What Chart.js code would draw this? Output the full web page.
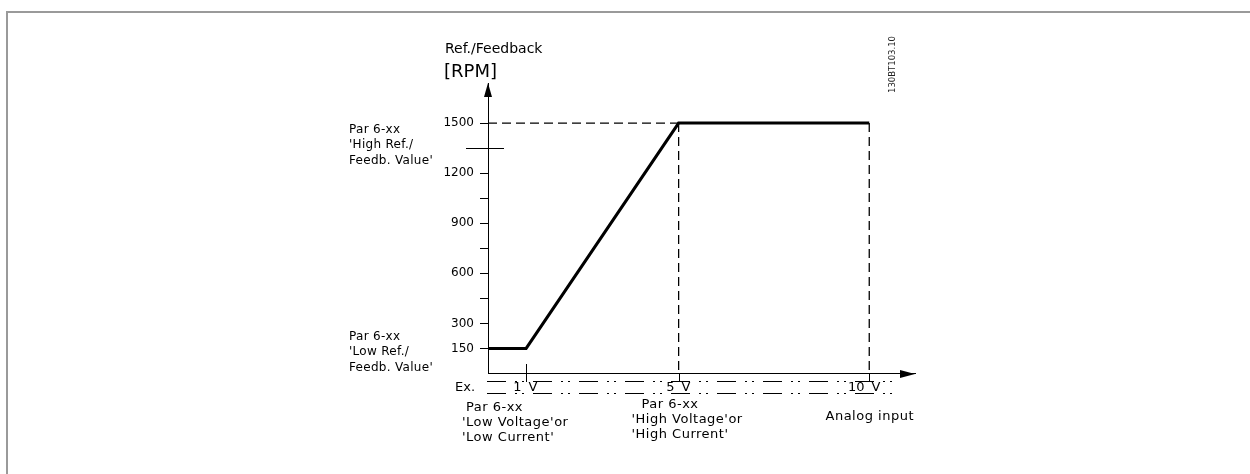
<!DOCTYPE html>
<html><head><meta charset="utf-8">
<script src="https://cdn.jsdelivr.net/npm/chart.js@4/dist/chart.umd.min.js"></script>
<style>
html,body{margin:0;padding:0;background:#fff;}
#wrap{position:relative;width:1250px;height:474px;overflow:hidden;}
#frame{position:absolute;left:6px;top:11px;right:-4px;bottom:-4px;border-left:2px solid #9a9a9a;border-top:2px solid #9a9a9a;pointer-events:none;}
</style></head><body>
<div id="wrap"><canvas id="c"></canvas><div id="frame"></div></div>
<script>
// ---- data ----
const xVolts = [0, 1, 5, 10];
const yRpm = [150, 150, 1500, 1500];
const yTickValues = [150, 300, 450, 600, 750, 900, 1050, 1200, 1500];
const yTickLabels = ['150', '300', '', '600', '', '900', '', '1200', '1500'];
const crossTickValue = 1350;
const xMarkValues = [1, 5, 10];
const xMarkLabels = ['1', '5', '10'];
const xUnit = 'V';
const highRefValue = 1500;
const highVoltValue = 5;
const maxVoltValue = 10;
const yTitle = ['Ref./Feedback', '[RPM]'];
const highRefLabel = ["Par 6-xx", "'High Ref./", "Feedb. Value'"];
const lowRefLabel = ["Par 6-xx", "'Low Ref./", "Feedb. Value'"];
const lowVoltLabel = ["Par 6-xx", "'Low Voltage'or", "'Low Current'"];
const highVoltLabel = ["Par 6-xx", "'High Voltage'or", "'High Current'"];
const exampleLabel = 'Ex.';
const xTitle = 'Analog input';
const drawingId = '130BT103.10';

const FONT = '"DejaVu Sans", sans-serif';

const mainData = xVolts.map((x, i) => ({x, y: yRpm[i]}));
const guideH = [{x: 0, y: highRefValue}, {x: highVoltValue, y: highRefValue}];
const guideV1 = [{x: highVoltValue, y: highRefValue}, {x: highVoltValue, y: 0}];
const guideV2 = [{x: maxVoltValue, y: highRefValue}, {x: maxVoltValue, y: 0}];

function seg(ctx, x1, y1, x2, y2) {
  ctx.beginPath(); ctx.moveTo(x1, y1); ctx.lineTo(x2, y2); ctx.stroke();
}

const decor = {
  id: 'decor',
  afterDraw(chart) {
    const ctx = chart.ctx, a = chart.chartArea, xs = chart.scales.x, ys = chart.scales.y;
    const L = Math.round(a.left), B = Math.round(a.bottom), T = a.top, R = a.right;
    ctx.save();
    ctx.fillStyle = '#000'; ctx.strokeStyle = '#000'; ctx.lineWidth = 1;
    // arrowheads
    ctx.beginPath(); ctx.moveTo(L, T); ctx.lineTo(L - 4, T + 14); ctx.lineTo(L + 4, T + 14); ctx.closePath(); ctx.fill();
    ctx.beginPath(); ctx.moveTo(R, B); ctx.lineTo(R - 15, B - 4); ctx.lineTo(R - 15, B + 4); ctx.closePath(); ctx.fill();
    // crossing tick
    const yc = Math.round(ys.getPixelForValue(crossTickValue)) + 0.5;
    seg(ctx, L - 22, yc, L + 16, yc);
    // ticks below axis
    const px = xMarkValues.map(v => Math.round(xs.getPixelForValue(v)) + 0.5);
    seg(ctx, px[0], B - 10, px[0], B + 8);
    seg(ctx, px[1], B, px[1], B + 8);
    seg(ctx, px[2], B, px[2], B + 8);
    // example rows
    ctx.setLineDash([19, 9, 2, 5, 2, 9]);
    seg(ctx, L - 1, B + 7.5, px[2] + 26, B + 7.5);
    seg(ctx, L - 1, B + 19.5, px[2] + 26, B + 19.5);
    ctx.setLineDash([]);

    // texts
    ctx.textBaseline = 'alphabetic';
    ctx.textAlign = 'left';
    ctx.font = '14px ' + FONT;
    ctx.fillText(yTitle[0], L - 43, T - 30);
    ctx.font = '18px ' + FONT;
    ctx.fillText(yTitle[1], L - 44, T - 6);

    ctx.font = '12px ' + FONT;
    try { ctx.letterSpacing = '0.3px'; } catch (e) {}
    const yHi = ys.getPixelForValue(highRefValue);
    [9.5, 25, 40.5].forEach((d, i) => ctx.fillText(highRefLabel[i], L - 139, yHi + d));
    const yLo = ys.getPixelForValue(yRpm[0]);
    [-8.5, 7, 23].forEach((d, i) => ctx.fillText(lowRefLabel[i], L - 139, yLo + d));
    try { ctx.letterSpacing = '0px'; } catch (e) {}

    ctx.font = '13px ' + FONT;
    ctx.fillText(exampleLabel, L - 33, B + 17);
    xMarkLabels.forEach((t, i) => {
      ctx.textAlign = 'right'; ctx.fillText(t, px[i] - 5, B + 17);
      ctx.textAlign = 'left'; ctx.fillText(xUnit, px[i] + 2, B + 17);
    });

    ctx.font = '13px ' + FONT;
    try { ctx.letterSpacing = '0.5px'; } catch (e) {}
    [[36.5, 4], [51.5, 0], [66.5, 0]].forEach((d, i) => ctx.fillText(lowVoltLabel[i], L - 26 + d[1], B + d[0]));
    [[33.5, 10], [48.5, 0], [63.5, 0]].forEach((d, i) => ctx.fillText(highVoltLabel[i], px[1] - 48 + d[1], B + d[0]));
    ctx.fillText(xTitle, px[2] - 44, B + 46);
    try { ctx.letterSpacing = '0px'; } catch (e) {}

    // drawing id, rotated
    ctx.save();
    ctx.font = '8.5px ' + FONT;
    ctx.fillStyle = '#222';
    ctx.translate(R - 20, T + 10);
    ctx.rotate(-Math.PI / 2);
    ctx.fillText(drawingId, 0, 0);
    ctx.restore();

    ctx.restore();
  }
};

new Chart(document.getElementById('c'), {
  type: 'line',
  data: {
    datasets: [
      {data: mainData, borderColor: '#000', borderWidth: 3, pointRadius: 0, tension: 0, order: 0, fill: false},
      {data: guideH, borderColor: '#000', borderWidth: 1.3, borderDash: [9, 5], pointRadius: 0, order: 1, fill: false},
      {data: guideV1, borderColor: '#000', borderWidth: 1.3, borderDash: [9, 5], pointRadius: 0, order: 1, fill: false},
      {data: guideV2, borderColor: '#000', borderWidth: 1.3, borderDash: [9, 5], pointRadius: 0, order: 1, fill: false}
    ]
  },
  options: {
    responsive: true,
    maintainAspectRatio: false,
    animation: false,
    events: [],
    layout: {padding: {left: 428, right: 335, top: 83, bottom: 100.5}},
    plugins: {legend: {display: false}, tooltip: {enabled: false}},
    scales: {
      x: {
        type: 'linear', min: 0, max: 11.2,
        ticks: {display: false},
        grid: {display: false},
        border: {display: true, color: '#000', width: 1},
        afterFit(s) { s.height = 0; }
      },
      y: {
        type: 'linear', min: 0, max: 1740,
        afterBuildTicks(s) { s.ticks = yTickValues.map(v => ({value: v})); },
        ticks: {
          autoSkip: false, color: '#000', padding: 6,
          font: {family: FONT, size: 12},
          callback: (v, i) => yTickLabels[i]
        },
        grid: {drawOnChartArea: false, drawTicks: true, tickLength: 8, color: '#000', lineWidth: 1},
        border: {display: true, color: '#000', width: 1},
        afterFit(s) { s.width = 60; }
      }
    }
  },
  plugins: [decor]
});
</script>
</body></html>
